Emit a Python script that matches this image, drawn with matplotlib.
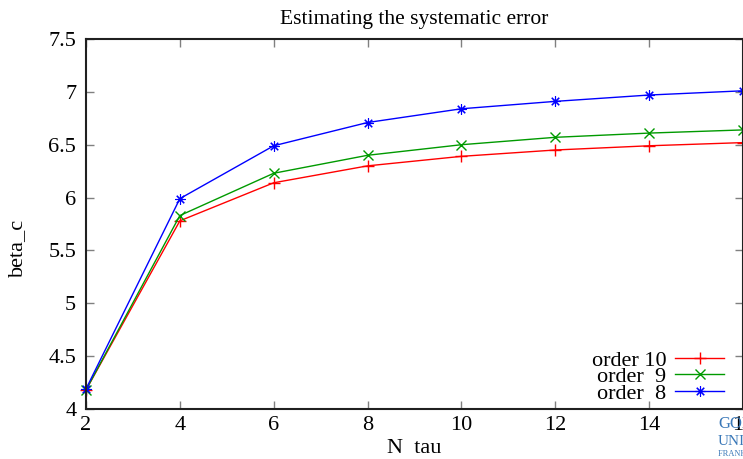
import numpy as np
import matplotlib.pyplot as plt

plt.rcParams['font.family'] = ['Liberation Serif', 'DejaVu Serif']

n_tau = [2, 4, 6, 8, 10, 12, 14, 16]
order10 = [4.18, 5.78, 6.14, 6.30, 6.39, 6.45, 6.49, 6.52]
order9 = [4.18, 5.83, 6.23, 6.40, 6.50, 6.57, 6.61, 6.64]
order8 = [4.19, 5.99, 6.49, 6.71, 6.84, 6.91, 6.97, 7.01]

fig = plt.figure(figsize=(7.43, 4.59), dpi=100)
ax = fig.add_axes([86 / 743, 1 - 409 / 459, 1 - 86 / 743, (409 - 39) / 459])

ax.plot(n_tau, order10, color='#ff0000', lw=1, marker='+', ms=8, mew=1, label='order 10', clip_on=False)
ax.plot(n_tau, order9, color='#009a00', lw=1, marker='x', ms=6.5, mew=1, label='order  9', clip_on=False)
ax.plot(n_tau, order8, color='#0000ff', lw=1, marker=(8, 2, 0), ms=7.5, mew=0.8, label='order  8', clip_on=False)

ax.set_xlim(2, 16)
ax.set_ylim(4, 7.5)
ax.set_xticks(np.arange(2, 17, 2))
ax.set_yticks(np.arange(4, 7.51, 0.5))
ax.set_yticklabels(['4', '4.5', '5', '5.5', '6', '6.5', '7', '7.5'])

ax.tick_params(direction='in', length=6, width=1, color='#808080', labelsize=16,
               top=True, right=True)
ax.tick_params(axis='x', pad=5)
ax.tick_params(axis='y', pad=7)
for s in ax.spines.values():
    s.set_linewidth(1.5)
    s.set_color('#202020')

ax.set_title('Estimating the systematic error', fontsize=15.5, pad=11)
ax.set_xlabel('N  tau', fontsize=16, labelpad=3)
ax.set_ylabel('beta_c', fontsize=16)
ax.yaxis.set_label_coords(-59 / 657, 0.435)

leg = ax.legend(loc='lower right', bbox_to_anchor=(0.985, -0.01), markerfirst=False, frameon=False,
                fontsize=16, handlelength=2.2, labelspacing=-0.18, handletextpad=0.4,
                borderaxespad=0.0)

# logo watermark, cut off at the right edge
fig.text(718 / 743, 1 - 428 / 459, 'GOETHE', color='#3a78b8', fontsize=12)
fig.text(718 / 743, 1 - 445 / 459, 'UNIVERSITÄT', color='#3a78b8', fontsize=11)
fig.text(718 / 743, 1 - 456 / 459, 'FRANKFURT AM MAIN', color='#3a78b8', fontsize=6)

fig.savefig('out.png', dpi=100)
